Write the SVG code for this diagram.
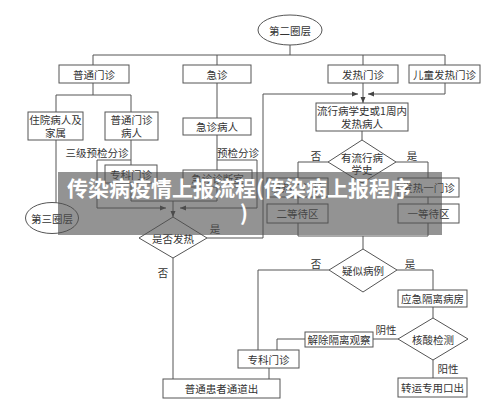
<svg xmlns="http://www.w3.org/2000/svg" width="500" height="407" viewBox="0 0 500 407">
<defs>
<marker id="ah" markerWidth="6" markerHeight="6" refX="6" refY="3" orient="auto" markerUnits="userSpaceOnUse"><path d="M0,0.5 L6,3 L0,5.5 z" fill="#444"/></marker>
<style>
.box{fill:#fff;stroke:#555;stroke-width:1}
.ln{fill:none;stroke:#555;stroke-width:1}
.t{font-family:"Noto Sans CJK SC",sans-serif;font-size:10.5px;fill:#333;text-anchor:middle;dominant-baseline:central}
.ban{font-family:"Noto Sans CJK SC",sans-serif;font-size:21px;font-weight:bold;fill:#fff}
</style>
</defs>
<rect width="500" height="407" fill="#fff"/>
<g id="connectors" class="ln">
<path d="M290,45 V55"/>
<path d="M93,65 V55 H445 V65"/>
<path d="M217,55 V65 M363,55 V65"/>
<path d="M93,83 V95 M56,95 H131 M56,95 V112 M131,95 V112"/>
<path d="M217,83 V118"/>
<path d="M56,140 V203"/>
<path d="M131,140 V165 M131,160 H97 V208 H166" marker-end="url(#ah)"/>
<path d="M217,135 V170 M217,160 H257 V208 H180" marker-end="url(#ah)"/>
<path d="M131,183 V201 H217 V187"/>
<path d="M173,201 V217" marker-end="url(#ah)"/>
<path d="M207,238 H263 V94 H358" marker-end="url(#ah)"/>
<path d="M445,83 V94 H368" marker-end="url(#ah)"/>
<path d="M363,83 V103" marker-end="url(#ah)"/>
<path d="M362,131 V140"/>
<path d="M328,162 H298 V178 M396,162 H428 V178"/>
<path d="M298,197 V204 M428,197 V204"/>
<path d="M298,223 V236 H428 V223 M363,236 V249"/>
<path d="M329,270 H258 V350"/>
<path d="M397,270 H433 V290"/>
<path d="M433,307 V318"/>
<path d="M398,339 H373"/>
<path d="M305,339 H277 V350"/>
<path d="M433,360 V378"/>
<path d="M269,368 V379"/>
<path d="M173,258 V379"/>
</g>
<g id="n-ring2"><ellipse cx="290" cy="30" rx="32" ry="15" class="box"/><text class="t" x="290" y="30">第二圈层</text></g>
<g id="n-ptmz"><rect x="59" y="65" width="70" height="18" class="box"/><text class="t" x="94" y="74">普通门诊</text></g>
<g id="n-jz"><rect x="183" y="65" width="68" height="18" class="box"/><text class="t" x="217" y="74">急诊</text></g>
<g id="n-frmz"><rect x="328" y="65" width="70" height="18" class="box"/><text class="t" x="363" y="74">发热门诊</text></g>
<g id="n-etfr"><rect x="409" y="65" width="71" height="18" class="box"/><text class="t" x="444.5" y="74">儿童发热门诊</text></g>
<g id="n-zy"><rect x="28" y="112" width="55" height="28" class="box"/><text class="t" x="55.5" y="119.5">住院病人及</text><text class="t" x="55.5" y="132">家属</text></g>
<g id="n-ptbr"><rect x="105" y="112" width="53" height="28" class="box"/><text class="t" x="131.5" y="119.5">普通门诊</text><text class="t" x="131.5" y="132">病人</text></g>
<g id="n-jzbr"><rect x="183" y="118" width="68" height="17" class="box"/><text class="t" x="217" y="126.5">急诊病人</text></g>
<g id="n-lx"><rect x="316" y="103" width="92" height="28" class="box"/><text class="t" x="362" y="110.5">流行病学史或1周内</text><text class="t" x="362" y="123.5">发热病人</text></g>
<g id="l-sj"><text class="t" x="97" y="152">三级预检分诊</text></g>
<g id="l-yj"><text class="t" x="238" y="152">预检分诊</text></g>
<g id="n-zkmz1"><rect x="105" y="165" width="52" height="18" class="box"/><text class="t" x="131" y="174">专科门诊</text></g>
<g id="n-jzzds"><rect x="183" y="170" width="69" height="17" class="box"/><text class="t" x="217.5" y="178.5">急诊诊断室</text></g>
<g id="n-ring3"><ellipse cx="52" cy="218" rx="26.5" ry="15.5" class="box"/><text class="t" x="52" y="218">第三圈层</text></g>
<g id="n-sffr"><polygon points="173,217 207,238 173,258 139,238" class="box"/><text class="t" x="173" y="238">是否发热</text></g>
<g id="n-ylx"><polygon points="362,140 396,162 362,183 328,162" class="box"/><text class="t" x="362" y="157">有流行病</text><text class="t" x="362" y="169.5">学史</text></g>
<g id="n-fr2"><rect x="267" y="178" width="61" height="19" class="box"/><text class="t" x="297.5" y="187.5">发热二门诊</text></g>
<g id="n-fr1"><rect x="398" y="178" width="61" height="19" class="box"/><text class="t" x="428.5" y="187.5">发热一门诊</text></g>
<g id="n-edq"><rect x="267" y="204" width="61" height="19" class="box"/><text class="t" x="297.5" y="213.5">二等待区</text></g>
<g id="n-ydq"><rect x="398" y="204" width="61" height="19" class="box"/><text class="t" x="428.5" y="213.5">一等待区</text></g>
<g id="n-ysbl"><polygon points="363,249 397,270 363,292 329,270" class="box"/><text class="t" x="363" y="270">疑似病例</text></g>
<g id="n-yjgl"><rect x="398" y="290" width="69" height="17" class="box"/><text class="t" x="432.5" y="298.5">应急隔离病房</text></g>
<g id="n-hsjc"><polygon points="433,318 468,339 433,360 398,339" class="box"/><text class="t" x="433" y="339">核酸检测</text></g>
<g id="n-jcgl"><rect x="305" y="332" width="68" height="15" class="box"/><text class="t" x="339" y="339.5">解除隔离观察</text></g>
<g id="n-zkmz2"><rect x="238" y="350" width="61" height="18" class="box"/><text class="t" x="268.5" y="359">专科门诊</text></g>
<g id="n-zyck"><rect x="398" y="378" width="69" height="19" class="box"/><text class="t" x="432.5" y="387.5">转运专用口出</text></g>
<g id="n-pthz"><rect x="163" y="379" width="117" height="19" class="box"/><text class="t" x="221.5" y="388.5">普通患者通道出</text></g>
<g id="labels">
<text class="t" x="316" y="155">否</text><text class="t" x="412" y="155">是</text>
<text class="t" x="316" y="263">否</text><text class="t" x="410" y="263">是</text>
<text class="t" x="215" y="228">是</text><text class="t" x="163" y="272">否</text>
<text class="t" x="386" y="329">阴性</text><text class="t" x="448" y="368">阳性</text>
</g>
<g id="banner">
<rect x="58" y="172" width="384" height="63" fill="#505050" opacity="0.62"/>
<text class="ban" x="67" y="196">传染病疫情上报流程(传染病上报程序</text>
<text class="ban" x="240" y="221">)</text>
</g>
</svg>
